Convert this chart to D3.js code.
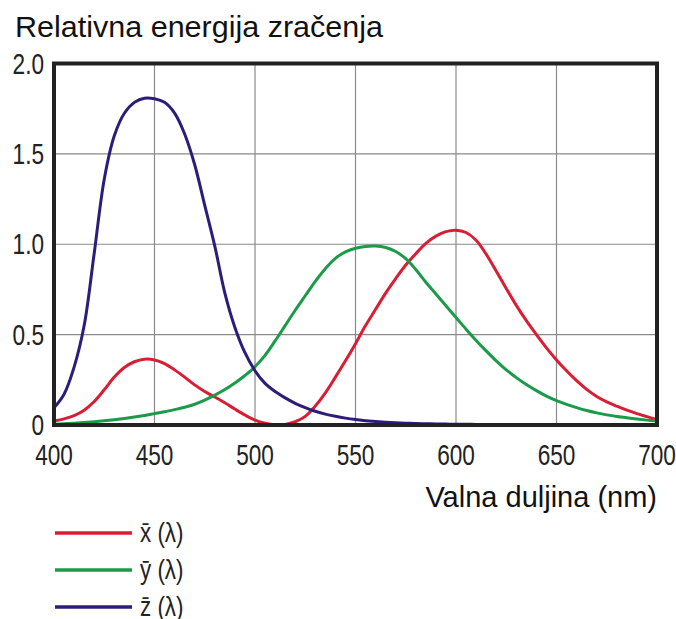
<!DOCTYPE html>
<html>
<head>
<meta charset="utf-8">
<script src="https://cdn.jsdelivr.net/npm/d3@7"></script>
<style>
  body { margin: 0; background: #fff; }
  .tick-label { font-family: 'Liberation Sans', Arial, sans-serif; font-size: 29px; fill: #222; }
  .title { font-family: 'Liberation Sans', Arial, sans-serif; font-size: 29px; fill: #111; }
</style>
</head>
<body>
<script>
// wavelength samples (nm), 5 nm step
const wavelengths = d3.range(400, 701, 5);

const xBar = [0.022, 0.034, 0.052, 0.082, 0.13, 0.195, 0.265, 0.318, 0.35, 0.364,
  0.36, 0.34, 0.305, 0.265, 0.222, 0.185, 0.155, 0.123, 0.088, 0.055,
  0.027, 0.01, 0.002, 0.003, 0.018, 0.048, 0.105, 0.178, 0.265, 0.355,
  0.45, 0.55, 0.64, 0.73, 0.81, 0.885, 0.948, 1.005, 1.045, 1.07,
  1.078, 1.065, 1.022, 0.945, 0.852, 0.755, 0.662, 0.577, 0.50, 0.427,
  0.36, 0.30, 0.245, 0.197, 0.158, 0.128, 0.104, 0.082, 0.063, 0.046, 0.03];

const yBar = [0.004, 0.007, 0.01, 0.014, 0.018, 0.023, 0.029, 0.036, 0.044, 0.053,
  0.063, 0.073, 0.085, 0.098, 0.115, 0.138, 0.165, 0.196, 0.232, 0.274,
  0.322, 0.385, 0.465, 0.55, 0.635, 0.715, 0.795, 0.865, 0.922, 0.958,
  0.978, 0.988, 0.99, 0.982, 0.96, 0.92, 0.86, 0.79, 0.725, 0.66,
  0.595, 0.53, 0.468, 0.41, 0.355, 0.305, 0.262, 0.224, 0.19, 0.16,
  0.135, 0.114, 0.096, 0.08, 0.067, 0.056, 0.047, 0.04, 0.033, 0.027, 0.022];

const zBar = [0.095, 0.17, 0.32, 0.55, 0.95, 1.36, 1.60, 1.725, 1.785, 1.808,
  1.805, 1.785, 1.725, 1.61, 1.44, 1.215, 0.99, 0.73, 0.54, 0.40,
  0.30, 0.23, 0.185, 0.15, 0.12, 0.096, 0.076, 0.06, 0.048, 0.038,
  0.03, 0.024, 0.019, 0.015, 0.012, 0.01, 0.008, 0.007, 0.006, 0.005,
  0.004, 0.004, 0.003, 0.003, 0.003, 0.002, 0.002, 0.002, 0.002, 0.002,
  0.002, 0.002, 0.002, 0.002, 0.002, 0.002, 0.002, 0.002, 0.002, 0.002, 0.002];

const xTicks = [400, 450, 500, 550, 600, 650, 700];
const yTicks = [0, 0.5, 1.0, 1.5, 2.0];
const yTickLabels = ['0', '0.5', '1.0', '1.5', '2.0'];

const seriesNames = ['x\u0304 (\u03bb)', 'y\u0304 (\u03bb)', 'z\u0304 (\u03bb)'];
const seriesColors = ['#d81e34', '#1b9a4a', '#2e1c7a'];
const seriesValues = [xBar, yBar, zBar];

const width = 676;
const height = 619;
const narrow = 0.78;

const svg = d3.select('body')
  .append('svg')
  .attr('width', width)
  .attr('height', height);

const x = d3.scaleLinear().domain([400, 700]).range([54, 657]);
const y = d3.scaleLinear().domain([0, 2]).range([425, 63.5]);

// grid
svg.append('g')
  .selectAll('line')
  .data(xTicks.slice(1, -1)).enter()
  .append('line')
  .attr('x1', d => x(d)).attr('x2', d => x(d))
  .attr('y1', y(0)).attr('y2', y(2))
  .attr('stroke', '#8a8a8a').attr('stroke-width', 1.2);

svg.append('g')
  .selectAll('line')
  .data(yTicks.slice(1, -1)).enter()
  .append('line')
  .attr('x1', x(400)).attr('x2', x(700))
  .attr('y1', d => y(d)).attr('y2', d => y(d))
  .attr('stroke', '#8a8a8a').attr('stroke-width', 1.2);

// curves
const line = d3.line()
  .x((d, i) => x(wavelengths[i]))
  .y(d => y(d))
  .curve(d3.curveCatmullRom.alpha(0.5));

svg.append('g')
  .selectAll('path')
  .data(seriesValues).enter()
  .append('path')
  .attr('d', d => line(d))
  .attr('fill', 'none')
  .attr('stroke', (d, i) => seriesColors[i])
  .attr('stroke-width', 3);

// frame
svg.append('rect')
  .attr('x', x(400)).attr('y', y(2))
  .attr('width', x(700) - x(400))
  .attr('height', y(0) - y(2))
  .attr('fill', 'none')
  .attr('stroke', '#222')
  .attr('stroke-width', 4);

// tick labels (condensed by horizontal scaling)
svg.append('g')
  .selectAll('text')
  .data(xTicks).enter()
  .append('text')
  .attr('class', 'tick-label')
  .attr('transform', d => `translate(${x(d)}, 465) scale(${narrow}, 1)`)
  .attr('text-anchor', 'middle')
  .text(d => d);

svg.append('g')
  .selectAll('text')
  .data(yTicks).enter()
  .append('text')
  .attr('class', 'tick-label')
  .attr('transform', d => `translate(44, ${y(d) + 10}) scale(${narrow}, 1)`)
  .attr('text-anchor', 'end')
  .text((d, i) => yTickLabels[i]);

// titles
svg.append('text')
  .attr('class', 'title')
  .attr('x', 15).attr('y', 37)
  .attr('textLength', 368)
  .attr('lengthAdjust', 'spacingAndGlyphs')
  .text('Relativna energija zračenja');

svg.append('text')
  .attr('class', 'title')
  .attr('x', 657).attr('y', 507)
  .attr('text-anchor', 'end')
  .text('Valna duljina (nm)');

// legend
const legend = svg.append('g')
  .selectAll('g')
  .data(seriesNames).enter()
  .append('g')
  .attr('transform', (d, i) => `translate(55, ${533 + i * 37})`);

legend.append('line')
  .attr('x1', 0).attr('x2', 77)
  .attr('stroke', (d, i) => seriesColors[i])
  .attr('stroke-width', 3.5);

legend.append('text')
  .attr('class', 'tick-label')
  .attr('transform', `translate(85, 9) scale(0.8, 1)`)
  .style('font-size', '28px')
  .text(d => d);
</script>
</body>
</html>
